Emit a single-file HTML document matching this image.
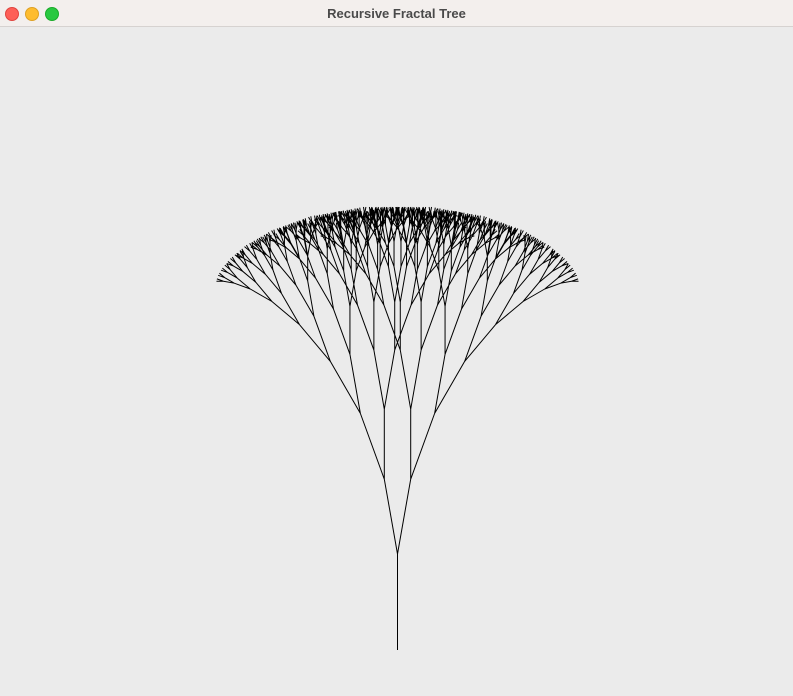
<!DOCTYPE html>
<html><head><meta charset="utf-8"><style>
body{margin:0;width:793px;height:696px;overflow:hidden;background:#ebebeb;font-family:"Liberation Sans",sans-serif}
#bar{position:absolute;left:0;top:0;width:793px;height:27px;background:#f3efed;border-bottom:1px solid #d6d2d0;box-sizing:border-box}
.dot{position:absolute;top:7px;width:12px;height:12px;border-radius:50%}
#title{position:absolute;top:0;left:0;width:793px;text-align:center;line-height:27px;font-size:13px;font-weight:bold;color:#4a4a4a}
svg{position:absolute;left:0;top:0}
</style></head><body>
<div id="bar">
<div class="dot" style="left:5px;background:#fe5f57;border:0.5px solid #e0443e"></div>
<div class="dot" style="left:25px;background:#febc2e;border:0.5px solid #dea123"></div>
<div class="dot" style="left:45px;background:#28c840;border:0.5px solid #1aab29"></div>
<div id="title">Recursive Fractal Tree</div>
</div>
<svg id="tree" width="793" height="696"></svg>
<script>
const levelLengths = [96, 76, 70, 60, 48, 36, 25, 17, 11, 7];
const branchAngleDeg = [10];
const trunkBase = [397.5, 650];
const svg = document.getElementById('tree');
const NS = 'http://www.w3.org/2000/svg';
let d = '';
function grow(x, y, ang, lvl) {
  if (lvl >= levelLengths.length) return;
  const L = levelLengths[lvl];
  const r = ang * Math.PI / 180;
  const x2 = x + L * Math.sin(r), y2 = y - L * Math.cos(r);
  d += 'M' + x.toFixed(2) + ' ' + y.toFixed(2) + 'L' + x2.toFixed(2) + ' ' + y2.toFixed(2);
  grow(x2, y2, ang - branchAngleDeg[0], lvl + 1);
  grow(x2, y2, ang + branchAngleDeg[0], lvl + 1);
}
grow(trunkBase[0], trunkBase[1], 0, 0);
const p = document.createElementNS(NS, 'path');
p.setAttribute('d', d);
p.setAttribute('stroke', '#000');
p.setAttribute('stroke-width', '1');
p.setAttribute('fill', 'none');


svg.appendChild(p);
</script>
</body></html>
